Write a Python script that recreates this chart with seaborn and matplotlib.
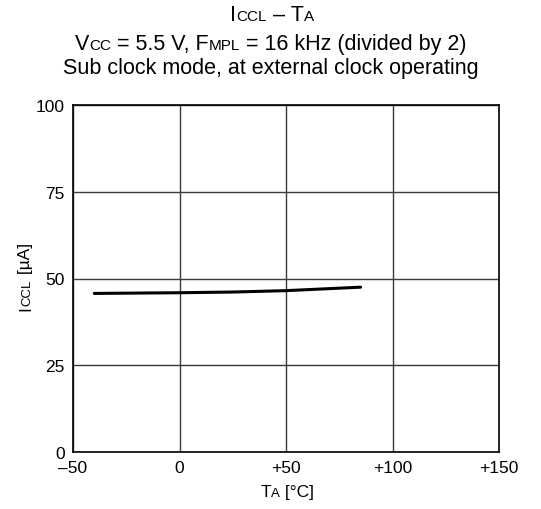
import matplotlib
matplotlib.use("Agg")
import matplotlib.pyplot as plt
import seaborn as sns
import pandas as pd

# Data
temperature = [-40, -20, 0, 25, 50, 85]
iccl_uA = [45.7, 45.8, 45.9, 46.1, 46.5, 47.5]
x_ticks = [-50, 0, 50, 100, 150]
x_tick_labels = ["\u201350", "0", "+50", "+100", "+150"]
y_ticks = [0, 25, 50, 75, 100]
y_tick_labels = ["0", "25", "50", "75", "100"]

sns.set_style("white")
plt.rcParams["font.family"] = ["Liberation Sans", "DejaVu Sans"]
plt.rcParams["text.color"] = "black"

fig = plt.figure(figsize=(5.41, 5.10), dpi=100)
ax = fig.add_axes([73 / 541, 1 - 453 / 510, (499 - 73) / 541, (453 - 106) / 510])

df = pd.DataFrame({"T": temperature, "I": iccl_uA})
sns.lineplot(data=df, x="T", y="I", ax=ax, color="black", linewidth=2.2)

ax.set_xlim(-50, 150)
ax.set_ylim(0, 100)
ax.set_xticks(x_ticks)
ax.set_xticklabels(x_tick_labels)
ax.set_yticks(y_ticks)
ax.set_yticklabels(y_tick_labels)
ax.tick_params(length=0, labelsize=12.5, pad=6, colors="black")
ax.grid(True, color="#3a3a3a", linewidth=1.0)
ax.set_axisbelow(True)
for s in ax.spines.values():
    s.set_color("black")
    s.set_linewidth(1.2)
ax.set_xlabel("")
ax.set_ylabel("")

fig.canvas.draw()
renderer = fig.canvas.get_renderer()


def rich(x_px, y_px, segments, rotation=0):
    """Place text segments (text, size) side by side, centered at x_px (or y_px if rotated), baseline at y_px."""
    texts = []
    for t, size in segments:
        txt = fig.text(0, 0, t, fontsize=size, rotation=rotation, color="black",
                       ha="left", va="baseline", rotation_mode="anchor")
        texts.append(txt)
    widths = []
    for txt in texts:
        bb = txt.get_window_extent(renderer)
        widths.append(bb.height if rotation == 90 else bb.width)
    total = sum(widths)
    H = 510
    W = 541
    if rotation == 90:
        pos = (H - y_px) - total / 2
        for txt, w in zip(texts, widths):
            txt.set_position((x_px / W, pos / H))
            pos += w
    else:
        pos = x_px - total / 2
        for txt, w in zip(texts, widths):
            txt.set_position((pos / W, (H - y_px) / H))
            pos += w


big = 15.5
small = 11
rich(272, 21, [("I", big), ("CCL", small), (" \u2013 T", big), ("A", small)])
rich(271, 50, [("V", big), ("CC", small), (" = 5.5 V, F", big), ("MPL", small),
               (" = 16 kHz (divided by 2)", big)])
rich(271, 74, [("Sub clock mode, at external clock operating", big)])

rich(287, 497, [("T", 12.5), ("A", 9.5), (" [\u00b0C]", 12.5)])
rich(30, 277, [("I", 12.5), ("CCL", 9.5), (" [\u00b5A]", 12.5)], rotation=90)

fig.savefig("out.png", dpi=100)
